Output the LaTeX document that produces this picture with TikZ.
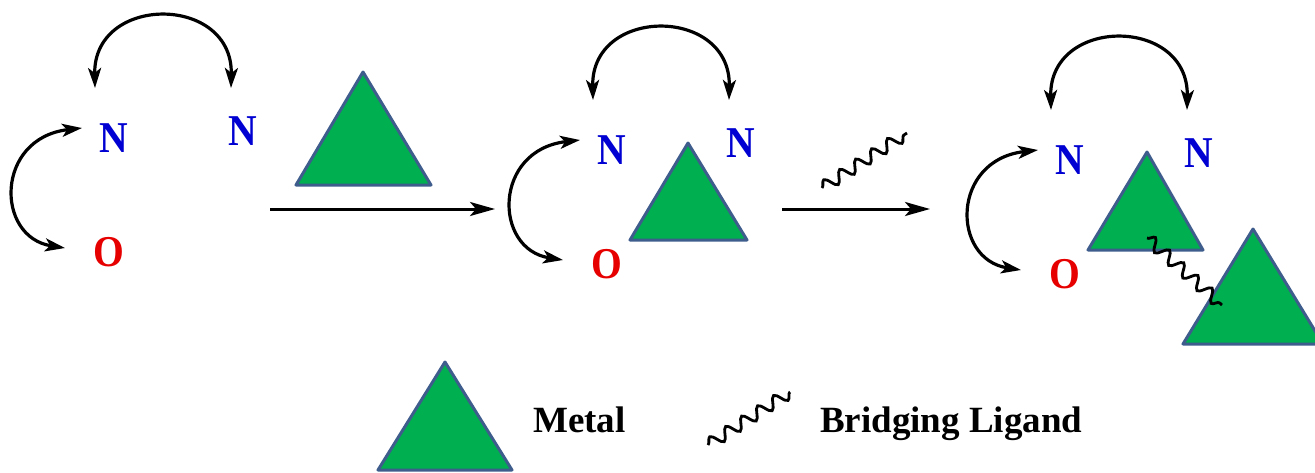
\documentclass[tikz,border=0pt]{standalone}
\usepackage{fontspec}
\setmainfont{Liberation Serif}
\usetikzlibrary{arrows.meta,decorations.pathmorphing}
\definecolor{metalgreen}{RGB}{0,176,80}
\definecolor{rim}{RGB}{62,92,140}
\definecolor{nblue}{RGB}{0,0,210}
\definecolor{ored}{RGB}{230,0,0}
\tikzset{
  atom/.style={inner sep=0pt, font=\fontsize{44}{44}\selectfont\bfseries},
  ntext/.style={atom, text=nblue},
  otext/.style={atom, text=ored},
  metal/.style={fill=metalgreen, draw=rim, line width=3pt, line join=round},
  swap/.style={line width=3.2pt, {Stealth[length=20pt,width=13pt,inset=5pt]}-{Stealth[length=20pt,width=13pt,inset=5pt]}},
  react/.style={line width=3pt, -{Stealth[length=25pt,width=14pt,inset=6pt]}},
  bridge/.style={line width=2.8pt, decorate, decoration={snake, segment length=19pt, amplitude=6pt}},
  legendtext/.style={inner sep=0pt, anchor=base west, font=\fontsize{37}{37}\selectfont\bfseries}
}
\newcommand\ringpanel[3]{%
  \begin{scope}[shift={(#1,#2)}]
    \node[ntext] (Na#3) at (114,138) {\scalebox{0.9}[1]{N}};
    \node[ntext] (Nb#3) at (243,131) {\scalebox{0.9}[1]{N}};
    \node[otext] (O#3) at (109,252) {\scalebox{0.9}[1]{O}};
    \coordinate (ta#3) at (95,88);
    \coordinate (tb#3) at (231,88);
    \coordinate (la#3) at (82,128);
    \coordinate (lb#3) at (65,248);
    \draw[swap] (ta#3) .. controls (93,-6) and (233,-6) .. (tb#3);
    \draw[swap] (la#3) .. controls (-5,138) and (-5,237) .. (lb#3);
  \end{scope}}
\begin{document}
\begin{tikzpicture}[x=1pt,y=-1pt]
  \useasboundingbox (0,0) rectangle (1315,472);
  \clip (0,0) rectangle (1315,472);
  % panel 1
  \ringpanel{0}{0}{1}
  \draw[metal] (363,72) -- (431,185) -- (296,185) -- cycle;
  \coordinate (a1s) at (270,209);
  \coordinate (a1e) at (495,209);
  \draw[react] (a1s) -- (a1e);
  % panel 2
  \ringpanel{498}{12}{2}
  \draw[metal] (688,143) -- (747,240) -- (630,240) -- cycle;
  \coordinate (w2s) at (822,188);
  \coordinate (w2e) at (907,133);
  \draw[bridge] (w2s) -- (w2e);
  \coordinate (a2s) at (782,209);
  \coordinate (a2e) at (930,209);
  \draw[react] (a2s) -- (a2e);
  % panel 3
  \ringpanel{956}{22}{3}
  \draw[metal] (1147,152) -- (1203,250) -- (1088,250) -- cycle;
  \draw[metal] (1253,229) -- (1323,344) -- (1183,344) -- cycle;
  \coordinate (w3s) at (1147,238);
  \coordinate (w3e) at (1222,305);
  \draw[bridge] (w3s) -- (w3e);
  % legend
  \draw[metal] (445,362) -- (512,470) -- (378,470) -- cycle;
  \node[legendtext] (metal) at (533,432) {Metal};
  \coordinate (w4s) at (708,445);
  \coordinate (w4e) at (790,392);
  \draw[bridge] (w4s) -- (w4e);
  \node[legendtext] (ligand) at (820,432) {Bridging Ligand};
\end{tikzpicture}
\end{document}
